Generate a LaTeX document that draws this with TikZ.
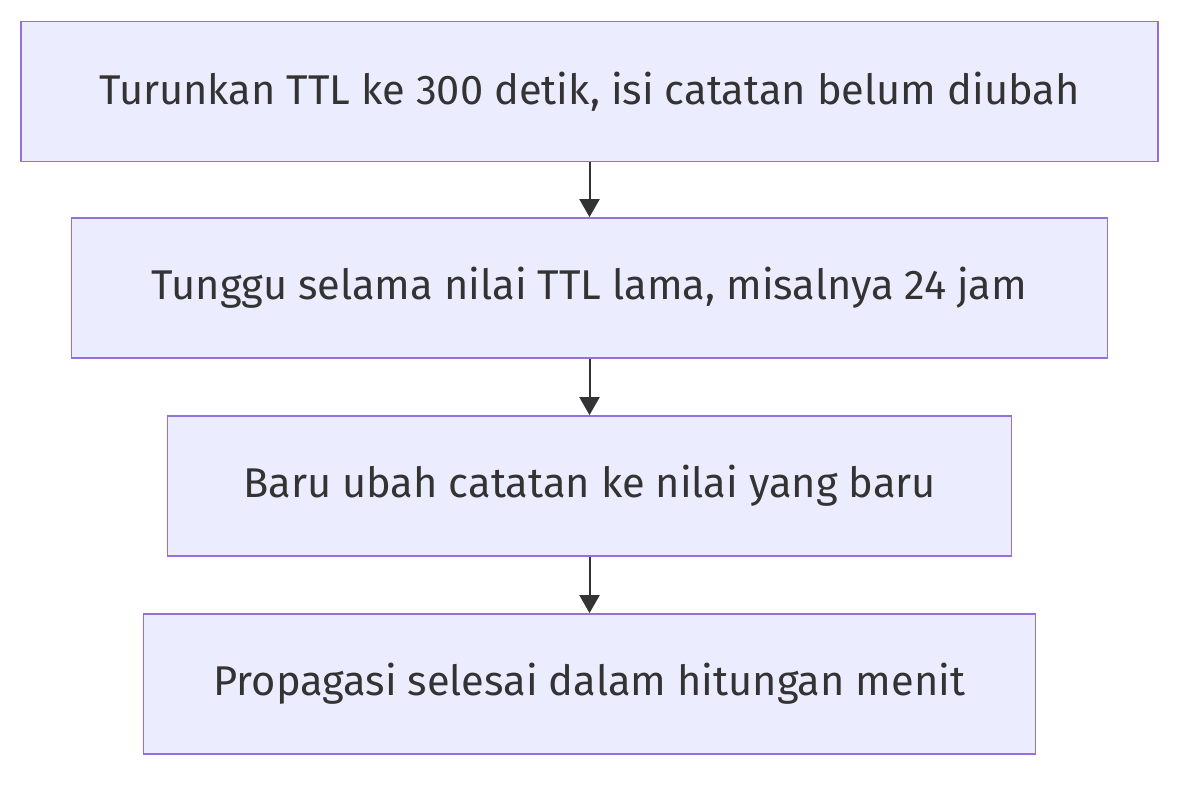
\documentclass[tikz,border=0pt]{standalone}
\usepackage{fontspec}
\setmainfont{Fira Sans}
\usetikzlibrary{arrows.meta}
\definecolor{boxfill}{HTML}{ECECFF}
\definecolor{boxline}{HTML}{9370DB}
\definecolor{txt}{HTML}{333333}
\tikzset{
  stepbox/.style={draw=boxline, fill=boxfill, line width=1.8pt, inner sep=0pt,
    minimum height=140pt, text=txt, font=\fontsize{41.6}{48}\selectfont},
  flow/.style={draw=txt, line width=2pt, -{Triangle[length=18pt,width=20pt]}}
}
\begin{document}
\begin{tikzpicture}[x=1pt,y=-1pt]
\useasboundingbox (0,0) rectangle (1200,789);
\node[stepbox, minimum width=1137pt] (a) at (589.5,91.5) {Turunkan TTL ke 300 detik, isi catatan belum diubah};
\node[stepbox, minimum width=1036pt] (b) at (589.5,288) {Tunggu selama nilai TTL lama, misalnya 24 jam};
\node[stepbox, minimum width=844pt] (c) at (589.5,486) {Baru ubah catatan ke nilai yang baru};
\node[stepbox, minimum width=892pt] (d) at (589.5,684) {Propagasi selesai dalam hitungan menit};
\draw[flow] (a) -- (b);
\draw[flow] (b) -- (c);
\draw[flow] (c) -- (d);
\end{tikzpicture}
\end{document}
